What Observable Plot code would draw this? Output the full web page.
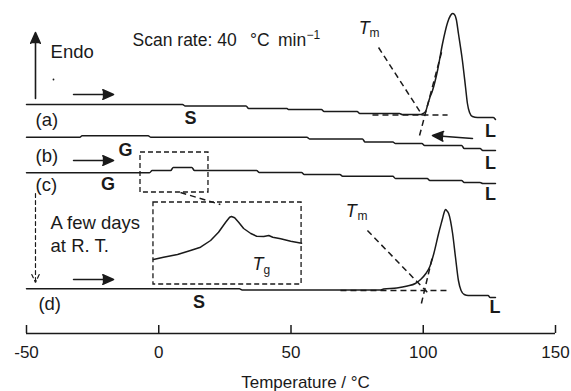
<!DOCTYPE html>
<html>
<head>
<meta charset="utf-8">
<script src="https://cdn.jsdelivr.net/npm/d3@7"></script>
<script src="https://cdn.jsdelivr.net/npm/@observablehq/plot@0.6"></script>
<style>
  html, body { margin: 0; padding: 0; background: #fff; }
  svg { font-family: "Liberation Sans", Arial, sans-serif; }
</style>
</head>
<body>
<div id="chart"></div>
<script>
// Temperature (°C) vs. heat flow signal (arbitrary units, endo up)
const xTicks = [-50, 0, 50, 100, 150];

const curveA = [[-50,229],[9,229],[10,227.5],[33,227.5],[34,225],[48.5,225],[49,224],[61.5,224],[62.5,222],[75,222],[76,220],[91,220],[92,219],[99,219],[100,220],[100.9,222],[101.6,228],[102.5,236],[103.5,243],[105.4,263],[107.3,290],[109.2,311],[110.3,318],[111.1,320],[111.8,319],[112.5,314],[113.3,300],[114.8,273],[116,246],[116.7,230],[117.5,221],[118.6,217],[120.5,216],[126.5,216],[127.3,214]];

const curveB = [[-50,196.3],[-29.8,196.3],[-29,197.7],[-4,197.7],[-3,196.3],[56,196.3],[57,194.5],[77,194.5],[78,191.5],[88.5,191.5],[89.5,190],[99.5,190],[100.5,188],[114.5,188],[115.5,185],[121.5,185],[122.5,183],[127.3,183]];

const curveC = [[-50,160.7],[-3.5,160.7],[-2.5,163],[4.5,163],[5.5,166],[12.5,166],[13.5,163],[37,163],[38,161],[54,161],[55,159],[68.5,159],[69.5,157.3],[88.5,157.3],[89.5,155],[101.5,155],[102.5,153],[114.5,153],[115.5,151],[121.5,151],[122.5,150],[127.3,150]];

const curveD = [[-50,44.7],[30.5,44.7],[31.5,43.5],[84,43.5],[85,44.5],[90,45.5],[94,47.5],[97,50],[99,54],[101,60],[102.5,67],[104,80],[105.8,100],[107.3,115],[107.9,121],[108.4,124],[109,122.5],[109.6,120],[111.1,100],[112.2,76],[113.3,53],[114.3,43],[115.5,39],[117,38],[124.5,38],[125.3,36],[127.3,36]];

// enlarged inset of the glass transition on curve (c)
const insetCurve = [[-2.0,74],[1.8,76.3],[7.1,79],[12,83],[15.8,86.3],[19.6,93],[22.6,101.3],[25.3,111.3],[26.8,116.3],[27.5,117],[28.7,115.7],[30.2,111.3],[32.1,105],[34.8,100],[37,97.3],[39.7,97],[41.6,98],[43.1,96.3],[46.1,94.7],[49.9,92.3],[54,90.3]];

// dashed construction lines [x1, y1, x2, y2]
const dashedLines = [
  [80.8,218.5,109.2,218.5],   // (a) baseline
  [98.6,198,107.3,285],       // (a) leading-edge tangent
  [83.1,286,99.7,218],        // (a) Tm pointer
  [68.7,43,109.2,43],         // (d) baseline
  [99.3,30,103.5,77],         // (d) leading-edge tangent
  [78.9,103,101.6,41],        // (d) Tm pointer
  [8.2,141,23.3,129]          // zoom connector
];
const boxes = [
  [-6.9,141,18.8,181],        // small box on (c)
  [-2.0,49,54,131]            // inset box
];
// arrows [x1, y1, x2, y2]
const solidArrows = [
  [-46.6,235,-46.6,301],
  [-32.2,239,-17.1,239],
  [-32.2,173,-17.1,173],
  [-32.2,54,-17.1,54],
  [118.6,195,103.5,198]
];
const dashedArrows = [[-46.6,140,-46.6,51]];

const labelsStart = [
  {x:-40.9, y:281.5, t:"Endo"},
  {x:-46.6, y:213.5, t:"(a)"},
  {x:-46.6, y:177, t:"(b)"},
  {x:-46.6, y:148, t:"(c)"},
  {x:-45.5, y:29.5, t:"(d)"},
  {x:-40.9, y:110, t:"A few days"},
  {x:-40.9, y:87.5, t:"at R. T."}
];
const scanRate = [
  {x:-9.9, y:293, t:"Scan rate: 40"},
  {x:34.5, y:293, t:"°C"},
  {x:45.1, y:293, t:"min"}
];
const boldLabels = [
  {x:12, y:215, t:"S"},
  {x:-12.6, y:183, t:"G"},
  {x:-19.2, y:149, t:"G"},
  {x:15.2, y:31, t:"S"},
  {x:125.4, y:202, t:"L"},
  {x:125.4, y:170.5, t:"L"},
  {x:125.4, y:139, t:"L"},
  {x:127.1, y:26.5, t:"L"}
];
const italicT = [
  {x:75.6, y:305, t:"T"},
  {x:70.7, y:122, t:"T"},
  {x:35.4, y:69, t:"T"}
];
const subLabels = [
  {x:79.7, y:300, t:"m"},
  {x:75.1, y:117, t:"m"},
  {x:39.6, y:63, t:"g"},
  {x:55.9, y:298, t:"−1"}
];

const ink = "#1a1a1a";
const lineStyle = {stroke: ink, strokeWidth: 1.5, curve: "monotone-x"};
const dash = "6,4";
const seg = {x1: d=>d[0], y1: d=>d[1], x2: d=>d[2], y2: d=>d[3]};

const chart = Plot.plot({
  width: 571,
  height: 391,
  marginLeft: 26,
  marginRight: 16,
  marginTop: 0,
  marginBottom: 58,
  x: {domain: [-50, 150]},
  y: {domain: [0, 333], axis: null},
  style: {fontFamily: '"Liberation Sans", Arial, sans-serif', color: ink, background: "#fff"},
  marks: [
    Plot.ruleY([0], {stroke: ink, strokeWidth: 1.5}),
    Plot.ruleX(xTicks, {y1: 0, y2: 8, stroke: ink, strokeWidth: 1.5}),
    Plot.axisX({ticks: xTicks, tickSize: 0, tickPadding: 12, fontSize: 17, tickFormat: d => String(d), label: null}),
    Plot.text(["Temperature / °C"], {x: 55.5, y: -49, fontSize: 17, fill: ink}),
    Plot.line(curveA, lineStyle),
    Plot.line(curveB, lineStyle),
    Plot.line(curveC, lineStyle),
    Plot.line(curveD, lineStyle),
    Plot.line(insetCurve, {...lineStyle, curve: "linear"}),
    Plot.link(dashedLines, {...seg, stroke: ink, strokeWidth: 1.5, strokeDasharray: dash}),
    Plot.rect(boxes, {...seg, fill: "none", stroke: ink, strokeWidth: 1.3, strokeDasharray: "5,3"}),
    Plot.arrow(solidArrows, {...seg, stroke: ink, fill: ink, strokeWidth: 1.6, headLength: 11, headAngle: 48}),
    Plot.arrow(dashedArrows, {...seg, stroke: ink, strokeWidth: 1.2, strokeDasharray: "4,3", headLength: 11, headAngle: 50}),
    Plot.dot([[-39.8, 254]], {r: 0.9, fill: ink, stroke: null}),
    Plot.text(labelsStart, {x: "x", y: "y", text: "t", textAnchor: "start", fontSize: 18.5, fill: ink}),
    Plot.text(scanRate, {x: "x", y: "y", text: "t", textAnchor: "start", fontSize: 17.5, fill: ink}),
    Plot.text(boldLabels, {x: "x", y: "y", text: "t", fontSize: 18, fontWeight: "bold", fill: ink}),
    Plot.text(italicT, {x: "x", y: "y", text: "t", textAnchor: "start", fontSize: 18, fontStyle: "italic", fill: ink}),
    Plot.text(subLabels, {x: "x", y: "y", text: "t", textAnchor: "start", fontSize: 12, fill: ink})
  ]
});
document.getElementById("chart").append(chart);
</script>
</body>
</html>
